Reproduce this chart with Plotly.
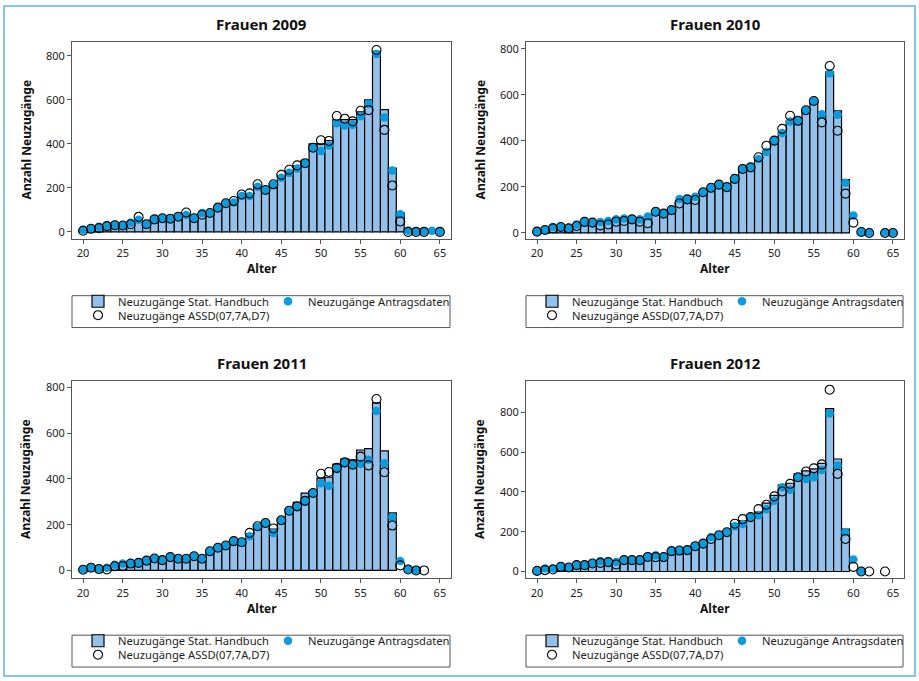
import plotly.graph_objects as go

W, H = 919, 681

ages = list(range(20, 66))
years = ["Frauen 2009", "Frauen 2010", "Frauen 2011", "Frauen 2012"]
x_ticks = [20, 25, 30, 35, 40, 45, 50, 55, 60, 65]
y_ticks = [0, 200, 400, 600, 800]

N = None
# ---- Frauen 2009 ----
bars_2009 = [10, 15, 20, 25, 30, 30, 40, 45, 40, 55, 60, 60, 65, 75, 65, 80, 85, 110, 125, 135, 165, 165, 205, 195,
             216, 255, 275, 300, 325, 400, 400, 415, 510, 510, 510, 545, 600, 820, 555, 290, 87, N, N, N, N, N]
dots_2009 = [10, 14, 23, 28, 32, 30, 42, 55, 35, 57, 62, 60, 70, 77, 62, 86, 86, 110, 130, 133, 163, 163, 205, 190,
             214, 246, 268, 288, 312, 382, 367, 392, 493, 483, 487, 525, 581, 808, 520, 279, 80, 5, 3, 3, 5, 2]
circ_2009 = [5, 14, 17, 26, 30, 29, 35, 68, 35, 57, 62, 60, 69, 88, 62, 78, 86, 110, 130, 140, 170, 175, 216, 190,
             216, 259, 282, 302, 312, 382, 416, 413, 526, 514, 502, 550, 553, 826, 463, 211, 47, 0, 0, 0, N, 0]
# ---- Frauen 2010 ----
bars_2010 = [5, 12, 22, 25, 20, 33, 45, 45, 42, 45, 55, 58, 58, 55, 60, 90, 84, 100, 140, 146, 150, 177, 196, 210,
             205, 238, 282, 288, 318, 355, 398, 435, 487, 500, 535, 570, 525, 700, 530, 232, N, N, N, N, N, N]
dots_2010 = [6, 13, 26, 26, 20, 37, 48, 45, 48, 52, 59, 63, 59, 59, 71, 92, 84, 99, 148, 146, 157, 177, 196, 212,
             199, 235, 278, 285, 321, 352, 401, 434, 484, 487, 533, 573, 516, 693, 513, 218, 76, 4, 2, N, 2, 2]
circ_2010 = [6, 13, 20, 26, 20, 30, 48, 45, 33, 37, 49, 52, 59, 49, 42, 92, 84, 99, 128, 146, 143, 177, 196, 210,
             199, 235, 278, 285, 329, 379, 401, 452, 509, 487, 533, 573, 480, 725, 444, 171, 45, 4, 0, N, 0, 0]
# ---- Frauen 2011 ----
bars_2011 = [5, 10, 8, 10, 20, 25, 30, 35, 42, 50, 45, 55, 52, 52, 60, 55, 85, 100, 110, 128, 125, 160, 200, 210,
             180, 225, 268, 297, 338, 349, 403, 407, 464, 486, 483, 526, 532, 732, 522, 251, N, N, N, N, N, N]
dots_2011 = [5, 12, 8, 12, 25, 30, 32, 35, 45, 52, 45, 58, 52, 52, 62, 52, 84, 99, 109, 128, 123, 149, 190, 207,
             164, 219, 261, 280, 304, 338, 381, 370, 443, 468, 462, 465, 483, 696, 468, 233, 41, 6, 2, N, N, N]
circ_2011 = [3, 12, 6, 4, 18, 19, 30, 33, 43, 52, 45, 58, 51, 51, 62, 51, 84, 99, 109, 128, 123, 164, 193, 207,
             183, 219, 261, 280, 304, 338, 422, 430, 448, 472, 462, 497, 459, 749, 429, 196, 22, 4, 0, 0, N, N]
# ---- Frauen 2012 ----
bars_2012 = [3, 10, 12, 20, 20, 30, 32, 40, 45, 47, 45, 55, 57, 57, 70, 78, 75, 100, 105, 110, 125, 140, 170, 182,
             197, 240, 255, 282, 298, 343, 382, 435, 443, 490, 505, 515, 543, 818, 565, 213, N, N, N, N, N, N]
dots_2012 = [3, 15, 15, 23, 20, 32, 32, 40, 52, 47, 48, 57, 57, 57, 73, 82, 72, 102, 105, 107, 127, 140, 173, 182,
             197, 227, 238, 273, 282, 313, 355, 423, 410, 473, 465, 473, 510, 793, 532, 198, 60, 2, N, N, N, N]
circ_2012 = [3, 7, 10, 23, 20, 32, 32, 40, 43, 47, 35, 57, 57, 57, 73, 72, 72, 102, 105, 107, 127, 140, 163, 182,
             197, 240, 263, 273, 313, 335, 377, 402, 440, 473, 502, 518, 538, 913, 490, 163, 23, 0, 0, N, 0, N]

bars_all = [bars_2009, bars_2010, bars_2011, bars_2012]
dots_all = [dots_2009, dots_2010, dots_2011, dots_2012]
circ_all = [circ_2009, circ_2010, circ_2011, circ_2012]

name_bar = "Neuzugänge Stat. Handbuch"
name_dot = "Neuzugänge Antragsdaten"
name_circ = "Neuzugänge ASSD(07,7A,D7)"

BAR_FILL = "#93C1EA"
DOT_COL = "#0A9BDC"
FRAME = "#555555"
FONT = "Noto Sans"

# panel pixel boxes (left, top, right, bottom)
panels = [(72, 40, 451, 238), (526, 40, 904, 238), (72, 381, 451, 579), (526, 381, 904, 579)]
y_ranges = [[-32, 863], [-26, 830], [-35, 826], [-35, 955]]
x_range = [18.6, 66.4]

def px(x):
    return x / W

def py(y):
    return 1 - y / H

fig = go.Figure()
layout = dict(width=W, height=H, margin=dict(l=0, r=0, t=0, b=0),
              paper_bgcolor="white", plot_bgcolor="white", showlegend=True,
              barmode="overlay", font=dict(family=FONT, size=12, color="#222"))
annotations = []
shapes = []

for i in range(4):
    k = "" if i == 0 else str(i + 1)
    xa, ya = "x" + k, "y" + k
    lg1 = "legend" if i == 0 else "legend" + str(2 * i + 1)
    lg2 = "legend" + str(2 * i + 2)
    fig.add_trace(go.Bar(x=ages, y=bars_all[i], width=1, name=name_bar, xaxis=xa, yaxis=ya,
                         marker=dict(color=BAR_FILL, line=dict(color="black", width=1.2)),
                         legend=lg1))
    fig.add_trace(go.Scatter(x=ages, y=dots_all[i], mode="markers", name=name_dot, xaxis=xa, yaxis=ya,
                             marker=dict(color=DOT_COL, size=8.5), legend=lg1))
    fig.add_trace(go.Scatter(x=ages, y=circ_all[i], mode="markers", name=name_circ, xaxis=xa, yaxis=ya,
                             marker=dict(symbol="circle-open", color="black", size=9, line=dict(width=1.1)),
                             legend=lg2))
    L, T, R, B = panels[i]
    axcommon = dict(showline=True, mirror=True, linecolor=FRAME, linewidth=1, ticks="outside",
                    ticklen=4, tickcolor=FRAME, showgrid=False, zeroline=False,
                    tickfont=dict(family=FONT, size=11, color="#222"))
    layout["xaxis" + k] = dict(domain=[px(L), px(R)], anchor=ya, range=x_range,
                               tickvals=x_ticks, **axcommon)
    layout["yaxis" + k] = dict(domain=[py(B), py(T)], anchor=xa, range=y_ranges[i],
                               tickvals=y_ticks, **axcommon)
    cx = (L + R) / 2
    annotations.append(dict(text="<b>" + years[i] + "</b>", x=px(cx), y=py(T - 18), xref="paper", yref="paper",
                            showarrow=False, font=dict(family=FONT, size=15, color="#111"),
                            xanchor="center", yanchor="middle"))
    annotations.append(dict(text="<b>Alter</b>", x=px(cx), y=py(B + 30), xref="paper", yref="paper",
                            showarrow=False, font=dict(family=FONT, size=12, color="#111"),
                            xanchor="center", yanchor="middle"))
    annotations.append(dict(text="<b>Anzahl Neuzugänge</b>", x=px(L - 46), y=py((T + B) / 2), xref="paper",
                            yref="paper", showarrow=False, textangle=-90,
                            font=dict(family=FONT, size=12, color="#111"),
                            xanchor="center", yanchor="middle"))
    # legend box
    bt = B + 57
    shapes.append(dict(type="rect", xref="paper", yref="paper", x0=px(L), x1=px(R - 1),
                       y0=py(bt), y1=py(bt + 32), line=dict(color=FRAME, width=1), fillcolor="rgba(0,0,0,0)"))
    lfont = dict(family=FONT, size=11.2, color="#222")
    layout[lg1] = dict(orientation="h", x=px(L + 6), y=py(bt - 9), xanchor="left", yanchor="top",
                       bgcolor="rgba(0,0,0,0)", borderwidth=0, font=lfont,
                       entrywidth=145, entrywidthmode="pixels",
                       itemclick=False, itemdoubleclick=False)
    layout[lg2] = dict(orientation="h", x=px(L + 6), y=py(bt + 5), xanchor="left", yanchor="top",
                       bgcolor="rgba(0,0,0,0)", borderwidth=0, font=lfont,
                       itemclick=False, itemdoubleclick=False)

# outer frame
shapes.append(dict(type="rect", xref="paper", yref="paper", x0=px(4), x1=px(915), y0=py(677), y1=py(4),
                   line=dict(color="#5BB5E5", width=1.5), fillcolor="rgba(0,0,0,0)"))

layout["annotations"] = annotations
layout["shapes"] = shapes
fig.update_layout(**layout)
fig.write_html("out.html", config={"displayModeBar": False},
               post_script="document.body.style.margin='0';document.body.style.padding='0';")
